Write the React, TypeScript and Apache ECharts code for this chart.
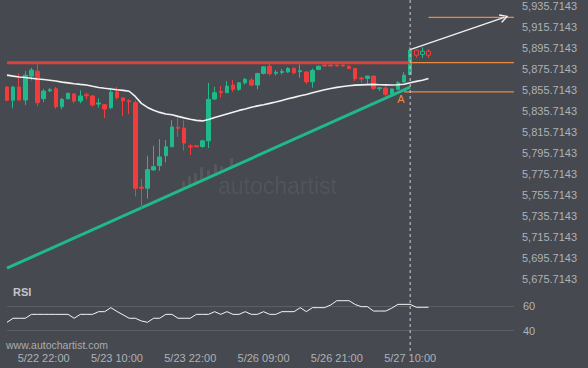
import React, { useEffect, useRef } from "react";
import * as echarts from "echarts";

// ---------- data ----------
const slotCount = 84; // hourly slots shown on the time axis
const timeLabels = ["5/22 22:00", "5/23 10:00", "5/23 22:00", "5/26 09:00", "5/26 21:00", "5/27 10:00"];
const timeLabelIndex = [6, 18, 30, 42, 54, 66];

const opens = [5858.2, 5845.6, 5858.2, 5845.9, 5868.6, 5873.3, 5847.1, 5854.6, 5856.6, 5839.5, 5847.1, 5851.6, 5844.9, 5850.9, 5849.7, 5842.0, 5841.4, 5838.6, 5853.4, 5847.8, 5845.2, 5843.3, 5763.0, 5762.0, 5779.4, 5783.5, 5792.9, 5801.4, 5820.0, 5819.1, 5802.1, 5802.4, 5801.7, 5807.1, 5846.8, 5853.9, 5852.8, 5860.1, 5856.0, 5862.2, 5864.8, 5860.1, 5871.1, 5878.0, 5871.2, 5872.1, 5872.6, 5875.9, 5872.8, 5872.6, 5863.2, 5874.9, 5879.2, 5879.2, 5879.2, 5879.2, 5878.0, 5875.9, 5866.9, 5866.4, 5868.6, 5856.6, 5857.2, 5851.6, 5856.0, 5862.9, 5870.2, 5893.2, 5889.1, 5892.2];
const closes = [5845.6, 5858.2, 5845.9, 5869.5, 5874.3, 5843.3, 5854.4, 5855.6, 5839.5, 5846.5, 5852.2, 5844.9, 5849.7, 5849.9, 5841.2, 5843.0, 5837.4, 5853.4, 5848.1, 5845.2, 5844.2, 5762.0, 5762.0, 5779.7, 5782.5, 5791.7, 5801.4, 5820.3, 5819.0, 5804.9, 5801.1, 5801.4, 5807.1, 5846.5, 5852.8, 5852.9, 5859.1, 5856.0, 5862.2, 5865.5, 5860.1, 5871.1, 5877.4, 5870.8, 5872.2, 5873.1, 5875.9, 5871.7, 5873.8, 5863.2, 5874.0, 5878.0, 5878.2, 5878.2, 5878.2, 5878.2, 5875.9, 5866.0, 5865.9, 5868.6, 5857.0, 5857.6, 5851.3, 5856.3, 5862.2, 5869.5, 5893.2, 5888.4, 5892.2, 5888.4];
const lows = [5844.9, 5838.0, 5844.9, 5841.2, 5864.5, 5840.2, 5844.0, 5853.5, 5837.7, 5837.1, 5846.4, 5842.8, 5842.8, 5846.5, 5839.5, 5838.6, 5828.6, 5837.1, 5846.5, 5830.8, 5832.4, 5754.2, 5742.5, 5752.0, 5778.7, 5778.7, 5786.6, 5801.4, 5810.9, 5797.7, 5793.6, 5801.3, 5800.5, 5800.2, 5845.9, 5848.1, 5852.5, 5853.7, 5854.4, 5860.7, 5859.1, 5856.0, 5870.2, 5869.2, 5869.2, 5870.2, 5871.7, 5870.2, 5867.0, 5861.3, 5857.5, 5874.3, 5878.1, 5878.1, 5878.1, 5878.1, 5875.2, 5863.9, 5862.2, 5861.0, 5855.3, 5854.4, 5849.7, 5850.6, 5855.3, 5862.2, 5869.2, 5885.9, 5885.9, 5885.9];
const highs = [5859.1, 5859.1, 5871.4, 5873.3, 5876.4, 5881.2, 5856.3, 5857.5, 5858.2, 5847.8, 5853.0, 5852.5, 5855.1, 5852.8, 5850.6, 5847.5, 5842.1, 5857.5, 5858.2, 5848.7, 5846.5, 5845.6, 5770.9, 5792.9, 5802.4, 5808.7, 5807.8, 5826.7, 5829.1, 5826.7, 5804.0, 5802.5, 5808.1, 5862.2, 5858.5, 5859.1, 5863.9, 5864.8, 5862.9, 5867.0, 5867.0, 5871.7, 5878.0, 5881.8, 5874.3, 5875.5, 5877.1, 5877.1, 5879.5, 5873.3, 5875.9, 5878.7, 5879.3, 5879.3, 5879.3, 5879.3, 5878.5, 5876.1, 5867.9, 5869.1, 5869.1, 5857.6, 5859.1, 5856.8, 5863.9, 5872.4, 5896.3, 5893.8, 5896.0, 5894.4];
const movingAvg = [5869.5, 5868.6, 5867.8, 5867.2, 5866.6, 5865.9, 5865.3, 5864.6, 5863.9, 5862.9, 5862.2, 5861.4, 5860.7, 5860.1, 5858.9, 5857.8, 5857.0, 5856.3, 5855.6, 5855.0, 5854.2, 5849.3, 5842.7, 5838.8, 5836.1, 5834.1, 5832.6, 5831.9, 5830.3, 5828.9, 5827.6, 5826.5, 5826.0, 5827.4, 5829.2, 5830.9, 5832.6, 5834.3, 5836.0, 5837.4, 5839.0, 5840.3, 5841.4, 5842.7, 5844.0, 5845.5, 5847.0, 5848.4, 5849.9, 5851.2, 5852.7, 5854.2, 5855.6, 5856.8, 5857.9, 5858.7, 5859.4, 5860.0, 5860.3, 5860.5, 5860.7, 5860.4, 5860.3, 5860.2, 5860.4, 5860.9, 5862.3, 5863.6, 5864.7, 5866.4];
const rsiValues = [46.9, 50.2, 50.2, 50.2, 53.4, 53.4, 53.4, 53.4, 53.4, 53.4, 53.4, 50.2, 53.4, 53.4, 53.4, 55.6, 55.6, 58.9, 55.8, 53.0, 50.2, 50.2, 48.0, 46.9, 50.2, 50.2, 53.4, 53.4, 50.2, 50.2, 50.2, 53.4, 53.4, 53.4, 55.6, 53.4, 55.6, 53.4, 53.4, 55.6, 53.4, 53.4, 55.6, 53.4, 53.4, 55.6, 55.6, 55.6, 58.9, 55.6, 58.9, 58.9, 58.9, 61.1, 64.6, 64.6, 64.6, 61.5, 59.7, 59.7, 56.1, 56.1, 56.1, 58.5, 61.6, 61.6, 61.6, 59.2, 59.2, 59.2];
const firstProjectedIndex = 67; // candles after the breakout drawn hollow

const priceTicks = [5675.7143, 5695.7143, 5715.7143, 5735.7143, 5755.7143, 5775.7143, 5795.7143, 5815.7143, 5835.7143, 5855.7143, 5875.7143, 5895.7143, 5915.7143, 5935.7143];
const rsiTicks = [40, 60];

const resistanceLevel = 5881.35;
const supportLevel = 5853.7;
const targetLevel = 5924.4;
const trendLine = [[0, 5686.0], [66, 5858.2]];
const forecastArrow = [[66, 5893.8], [81.4, 5924.4]];
const breakoutIndex = 66;
const pointA = [64.5, 5847.3];

// ---------- styles ----------
const BG = "#46494f";
const GREEN = "#1fb98a";
const RED = "#f23c3c";
const ORANGE = "#ee8a40";
const LABEL = "#aeb2b8";
const FONT = "'Liberation Sans', Arial, sans-serif";

const fmtPrice = (v: number) => {
  const [a, b] = v.toFixed(4).split(".");
  return a.replace(/\B(?=(\d{3})+(?!\d))/g, ",") + "." + b;
};

export default function App() {
  const ref = useRef<HTMLDivElement>(null);

  useEffect(() => {
    document.body.style.margin = "0";
    if (!ref.current) return;
    const chart = echarts.init(ref.current, undefined, { renderer: "svg" });

    const slots = Array.from({ length: slotCount }, (_, i) => String(i));
    const labelMap: Record<number, string> = {};
    timeLabelIndex.forEach((idx, k) => (labelMap[idx] = timeLabels[k]));

    const candles = opens.map((o, i) => {
      const item: any = { value: [o, closes[i], lows[i], highs[i]] };
      if (i >= firstProjectedIndex) item.itemStyle = { color: BG, color0: BG };
      return item;
    });

    const lastIdx = slotCount - 1;

    const baseGraphic: any[] = [
      {
        type: "text",
        left: 13,
        top: 286,
        style: { text: "RSI", fill: "#c3c7cc", font: `bold 11px ${FONT}` },
      },
      {
        type: "text",
        left: 6,
        top: 339,
        style: { text: "www.autochartist.com", fill: "#a9adb3", font: `10.5px ${FONT}` },
      },
      {
        type: "text",
        left: 218,
        top: 174,
        style: { text: "autochartist", fill: "rgba(255,255,255,0.07)", font: `23px ${FONT}` },
      },
    ];
    const wmBars = [
      [182, 181, 7], [188, 176, 12], [194, 173, 12], [200, 167, 13],
      [207, 170, 8], [214, 164, 11], [220, 166, 7], [230, 158, 10],
    ];
    wmBars.forEach(([x, y, h]) =>
      baseGraphic.push({
        type: "rect",
        shape: { x, y, width: 3, height: h, r: 1 },
        style: { fill: "rgba(255,255,255,0.08)" },
        silent: true,
      })
    );

    chart.setOption({
      animation: false,
      backgroundColor: BG,
      textStyle: { fontFamily: FONT },
      grid: [
        { left: 7, right: 74, top: 0, height: 290 },
        { left: 7, right: 74, top: 290, height: 56 },
      ],
      xAxis: [
        { type: "category", gridIndex: 0, data: slots, boundaryGap: false, show: false },
        { type: "value", gridIndex: 0, min: 0, max: lastIdx, show: false },
        {
          type: "category",
          gridIndex: 1,
          data: slots,
          boundaryGap: false,
          axisLine: { show: false },
          axisTick: { show: false },
          splitLine: { show: false },
          axisLabel: {
            interval: 0,
            margin: 6,
            color: LABEL,
            fontSize: 11,
            fontFamily: FONT,
            formatter: (_v: string, idx: number) => labelMap[idx] || "",
          },
        },
      ],
      yAxis: [
        {
          type: "value",
          gridIndex: 0,
          position: "right",
          min: 5665.27,
          max: 5939.497,
          axisLine: { show: false },
          axisTick: { show: false, customValues: priceTicks },
          splitLine: { show: false },
          axisLabel: {
            customValues: priceTicks,
            margin: 8,
            color: LABEL,
            fontSize: 11,
            fontFamily: FONT,
            formatter: (v: number) => fmtPrice(v),
          },
        },
        {
          type: "value",
          gridIndex: 1,
          position: "right",
          min: 27.46,
          max: 73.36,
          axisLine: { show: false },
          axisTick: { show: false, customValues: rsiTicks },
          splitLine: { show: true, lineStyle: { color: "#5b5e64", width: 1 } },
          axisLabel: {
            customValues: rsiTicks,
            margin: 9,
            color: LABEL,
            fontSize: 11,
            fontFamily: FONT,
          },
        },
      ],
      series: [
        {
          type: "line",
          xAxisIndex: 1,
          yAxisIndex: 0,
          data: trendLine,
          symbol: "none",
          lineStyle: { color: GREEN, width: 3 },
          z: 1,
          markPoint: {
            symbol: "circle",
            symbolSize: 0,
            data: [{ coord: pointA }],
            label: { show: true, formatter: "A", color: ORANGE, fontSize: 11, position: "inside", fontFamily: FONT },
          },
        },
        {
          type: "candlestick",
          xAxisIndex: 0,
          yAxisIndex: 0,
          data: candles,
          barWidth: 4,
          clip: true,
          itemStyle: { color: GREEN, color0: RED, borderColor: GREEN, borderColor0: RED, borderWidth: 1 },
          z: 2,
        },
        {
          type: "line",
          xAxisIndex: 0,
          yAxisIndex: 0,
          data: movingAvg,
          symbol: "none",
          lineStyle: { color: "#f2f2f2", width: 1.6 },
          z: 3,
        },
        {
          type: "line",
          xAxisIndex: 1,
          yAxisIndex: 0,
          data: [[0, resistanceLevel], [breakoutIndex, resistanceLevel]],
          symbol: "none",
          lineStyle: { color: "#e4433f", width: 3, opacity: 0.92 },
          z: 4,
        },
        {
          type: "line",
          xAxisIndex: 1,
          yAxisIndex: 0,
          data: [[breakoutIndex, resistanceLevel], [lastIdx, resistanceLevel]],
          symbol: "none",
          lineStyle: { color: ORANGE, width: 1.2 },
          z: 4,
        },
        {
          type: "line",
          xAxisIndex: 1,
          yAxisIndex: 0,
          data: [[65, supportLevel], [lastIdx, supportLevel]],
          symbol: "none",
          lineStyle: { color: ORANGE, width: 1.2 },
          z: 4,
        },
        {
          type: "line",
          xAxisIndex: 1,
          yAxisIndex: 0,
          data: [[69, targetLevel], [lastIdx, targetLevel]],
          symbol: "none",
          lineStyle: { color: ORANGE, width: 1.2 },
          z: 4,
          markLine: {
            silent: true,
            symbol: ["none", "path://M5,0 L10,9 L8.6,10 L5,3 L1.4,10 L0,9 Z"],
            symbolSize: [9, 9],
            label: { show: false },
            lineStyle: { color: "#f2f2f2", width: 1.3, type: "solid" },
            data: [[{ coord: forecastArrow[0] }, { coord: forecastArrow[1] }]],
          },
        },
        {
          type: "line",
          xAxisIndex: 2,
          yAxisIndex: 1,
          data: rsiValues,
          symbol: "none",
          lineStyle: { color: "#f5f5f5", width: 1 },
        },
      ],
      graphic: baseGraphic,
    });

    const bx = chart.convertToPixel({ xAxisIndex: 0 }, breakoutIndex) as number;
    chart.setOption({
      graphic: [
        ...baseGraphic,
        {
          type: "line",
          shape: { x1: bx, y1: 0, x2: bx, y2: 352 },
          style: { stroke: "#c9cbcf", lineWidth: 1, lineDash: [3, 3] },
          z: 10,
          silent: true,
        },
      ],
    });

    return () => chart.dispose();
  }, []);

  return <div ref={ref} style={{ position: "fixed", left: 0, top: 0, width: 588, height: 368 }} />;
}
